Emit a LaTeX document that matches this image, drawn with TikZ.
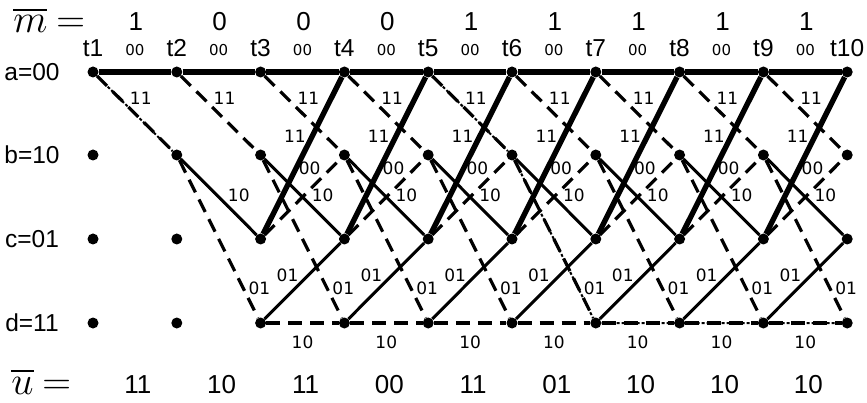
\documentclass[tikz,border=0pt]{standalone}
\usepackage{amsmath}
\usepackage{fontspec}
\setmainfont{Liberation Sans}
\newfontfamily\edgefont{DejaVu Sans}
\usetikzlibrary{positioning}

\begin{document}
\begin{tikzpicture}[x=1pt,y=-1pt,
  every node/.style={inner sep=0pt},
  state/.style={circle,fill,minimum size=11pt},
  zero/.style={line width=5.4pt},
  zerothin/.style={line width=3pt},
  one/.style={line width=3.2pt,dash pattern=on 14pt off 8pt},
  best/.style={line width=2pt,dash pattern=on 3pt off 2pt},
  lbl/.style={font=\edgefont\fontsize{17}{17}\selectfont},
  lbltop/.style={font=\edgefont\fontsize{15}{15}\selectfont},
  txt/.style={font=\fontsize{24.5}{25}\selectfont},
  bits/.style={font=\fontsize{26}{26}\selectfont,anchor=base},
  vec/.style={font=\Huge,scale=1.6,anchor=base west},
  declare function={col(\k) = 93+(\k-1)*83.8; mid(\k) = 93+(\k-0.5)*83.8;}]

  \useasboundingbox (0,0) rectangle (867,403);

  % states and times
  \foreach \i in {1,...,10} {
    \node[state] (a\i) at ({col(\i)},72) {};
    \node[state] (b\i) at ({col(\i)},155) {};
    \node[state] (c\i) at ({col(\i)},239) {};
    \node[state] (d\i) at ({col(\i)},323) {};
    \node[txt,anchor=base] (t\i) at ({col(\i)},57) {t\i};
  }

  % state names
  \node[txt] (na) at (32,72) {a=00};
  \node[txt] (nb) at (32,155) {b=10};
  \node[txt] (nc) at (32,239) {c=01};
  \node[txt] (nd) at (32,323) {d=11};

  % message and code word
  \node[vec] (mbar) at (13,33) {$\thickmuskip=4mu\relax\overline{m}=$};
  \node[vec] (ubar) at (11,394) {$\thickmuskip=4mu\relax\overline{u}=$};
  \foreach \v [count=\i] in {1,0,0,0,1,1,1,1,1}
    \node[bits] (m\i) at ({mid(\i)+1},31) {\v};
  \foreach \v [count=\i] in {11,10,11,00,11,01,10,10,10}
    \node[bits] (u\i) at ({mid(\i)+3},393) {\v};

  % from a
  \foreach \i [count=\j from 2] in {1,...,9} {
    \draw[zero] (a\i) -- (a\j) node[lbltop,midway,yshift=22pt] {00};
    \draw[one] (a\i) -- (b\j) node[lbl,pos=0.3,xshift=21pt] {11};
  }

  % from b
  \foreach \i [count=\j from 3] in {2,...,9} {
    \draw[zerothin] (b\i) -- (c\j) node[lbl,pos=0.62,xshift=11pt,yshift=11pt] {10};
    \draw[one] (b\i) -- (d\j) node[lbl,pos=0.815,xshift=16pt] {01};
  }

  % from c and d
  \foreach \i [count=\j from 4] in {3,...,9} {
    \draw[zero] (c\i) -- (a\j) node[lbl,pos=0.62,xshift=-17pt] {11};
    \draw[one] (c\i) -- (b\j) node[lbl,pos=0.82,xshift=-17pt,yshift=4pt] {00};
    \draw[zerothin] (d\i) -- (c\j) node[lbl,pos=0.58,xshift=-21pt] {01};
    \draw[one] (d\i) -- (d\j) node[lbl,midway,yshift=-19pt] {10};
  }

  % decoded path
  \draw[best] ([xshift=-8pt]a1) -- ([xshift=-4pt,yshift=-6pt]b2)
    -- ([yshift=-8pt]c3) -- ([xshift=8pt,yshift=-5pt]a4)
    -- ([yshift=-6pt]a5) -- ([xshift=-5pt,yshift=-4pt]b6)
    -- ([xshift=-4pt,yshift=-6pt]d7) -- ([xshift=3pt,yshift=-6pt]d10);
\end{tikzpicture}
\end{document}
